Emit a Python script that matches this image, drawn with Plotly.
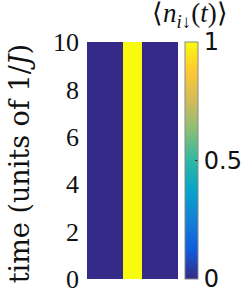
import plotly.graph_objects as go

# Data
sites = [1, 2, 3, 4, 5]
time_edges = [0, 2, 4, 6, 8, 10]
n_down = [0, 0, 1, 0, 0]  # <n_{i,down}(t)> per site, constant in time
y_ticks = [0, 2, 4, 6, 8, 10]
cbar_ticks = [0, 0.5, 1]
cbar_labels = ["0", "0.5", "1"]

z = [list(n_down) for _ in range(len(time_edges) - 1)]

parula = [
    [0.0, "#352A87"], [0.125, "#0F5CDD"], [0.25, "#1481D6"], [0.375, "#06A4CA"],
    [0.5, "#2EB7A4"], [0.625, "#87BF77"], [0.75, "#D1BB59"], [0.875, "#FEC832"],
    [1.0, "#F9FB0E"],
]

fig = go.Figure(go.Heatmap(
    x=sites, y=time_edges, z=z, zmin=0, zmax=1, colorscale=parula,
    zsmooth=False,
    colorbar=dict(
        x=1.077, xanchor="left", xpad=0, y=0.5, yanchor="middle", ypad=0,
        len=1, lenmode="fraction", thickness=13,
        outlinewidth=1, outlinecolor="#888888",
        tickvals=cbar_ticks, ticktext=cbar_labels, ticklabeloverflow="allow",
        ticks="inside", ticklen=3, tickcolor="#333333",
        tickfont=dict(family="DejaVu Sans, Arial", size=24, color="#111111"),
    ),
))

fig.update_layout(
    width=247, height=291,
    margin=dict(l=87, r=69, t=42, b=12, autoexpand=False),
    paper_bgcolor="white", plot_bgcolor="white",
    xaxis=dict(range=[0.5, 5.5], visible=False, showgrid=False),
    yaxis=dict(
        range=[0, 10], tickvals=y_ticks, ticks="", showgrid=False, zeroline=False,
        ticklabelstandoff=7, automargin=False, ticklabeloverflow="allow",
        tickfont=dict(family="Liberation Serif, Times New Roman, serif", size=26, color="#111111"),
    ),
    annotations=[
        dict(
            text="⟨<i>n</i><sub><i>i</i>↓</sub>(<i>t</i>)⟩", xref="paper", yref="paper",
            x=1.13, y=1.0, xanchor="center", yanchor="bottom", yshift=8, showarrow=False,
            font=dict(family="Liberation Serif, Times New Roman, serif", size=27, color="#111111"),
        ),
        dict(
            text="time (units of 1/<i>J</i>)", xref="paper", yref="paper",
            x=-0.745, y=0.485, xanchor="center", yanchor="middle", textangle=-90,
            showarrow=False,
            font=dict(family="DejaVu Serif, serif", size=27, color="#111111"),
        ),
    ],
)

fig.write_html("out.html", config={"displayModeBar": False},
               post_script="document.body.style.margin='0';document.body.style.padding='0';")
